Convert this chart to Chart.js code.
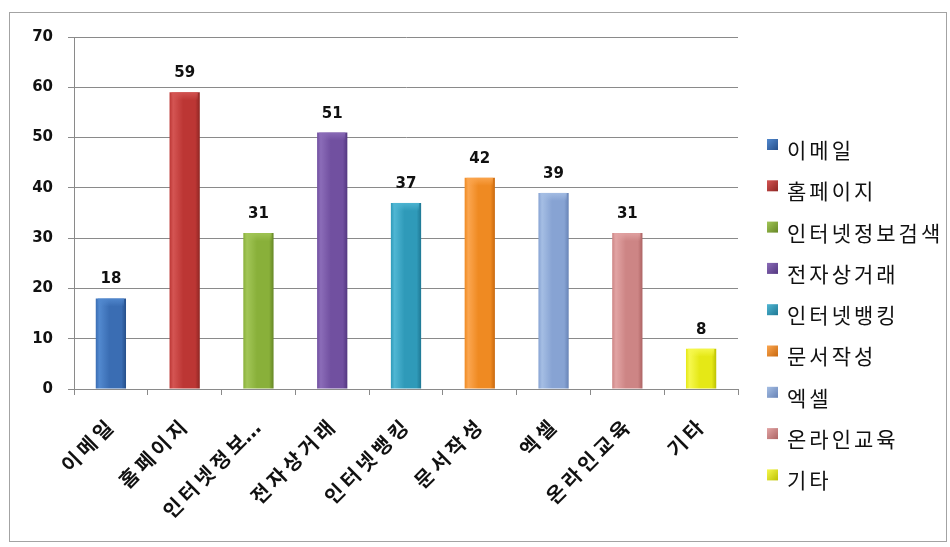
<!DOCTYPE html>
<html>
<head>
<meta charset="utf-8">
<script src="https://cdn.jsdelivr.net/npm/chart.js@4.4.1/dist/chart.umd.min.js"></script>
<style>
  html, body { margin: 0; padding: 0; background: #fff; }
  #frame {
    position: absolute; left: 9px; top: 12px;
    width: 936px; height: 528px;
    border: 1px solid #a3a3a3;
  }
</style>
</head>
<body>
<div id="frame"><canvas id="mycanvas" width="936" height="528"></canvas></div>
<script>
// 인터넷 활용 분야별 응답 수
var categories = ['이메일', '홈페이지', '인터넷정보검색', '전자상거래', '인터넷뱅킹', '문서작성', '엑셀', '온라인교육', '기타'];
var counts = [18, 59, 31, 51, 37, 42, 39, 31, 8];
var yTicks = [0, 10, 20, 30, 40, 50, 60, 70];

// bar shading: dark edge, body, light highlight
var barColors = [
  ['#264f8a', '#3a6db3', '#5289cf'],
  ['#8e2623', '#bc3634', '#d45553'],
  ['#668726', '#89b03a', '#a2c657'],
  ['#533780', '#7150a0', '#8b6cb8'],
  ['#1f7894', '#2f9ab9', '#4fb6d3'],
  ['#c9690f', '#ef8a22', '#fba650'],
  ['#6783b6', '#87a3d3', '#a5bee4'],
  ['#ad6464', '#cd8585', '#e2a4a4'],
  ['#bdc103', '#e5e816', '#f6f84e']
];

var BAR_SHARE = 0.41;
var baseFont = "'DejaVu Sans', 'Noto Sans CJK KR', sans-serif";

function barFill(ctx) {
  var chart = ctx.chart;
  var c = barColors[ctx.dataIndex % barColors.length];
  var area = chart.chartArea;
  var xs = chart.scales.x;
  if (!area || !xs) return c[1];
  var cx = xs.getPixelForValue(ctx.dataIndex);
  var half = (area.right - area.left) / categories.length * BAR_SHARE / 2;
  var g = chart.ctx.createLinearGradient(cx - half, 0, cx + half, 0);
  g.addColorStop(0, c[1]);
  g.addColorStop(0.12, c[2]);
  g.addColorStop(0.45, c[1]);
  g.addColorStop(0.85, c[1]);
  g.addColorStop(1, c[0]);
  return g;
}

function withAlpha(hex, a) {
  var n = parseInt(hex.slice(1), 16);
  return 'rgba(' + (n >> 16) + ',' + ((n >> 8) & 255) + ',' + (n & 255) + ',' + a + ')';
}

// spread Korean tick text a little with thin spaces
function spread(s) {
  return s.split('').join('\u2009');
}

var barCaps = {
  id: 'barCaps',
  afterDatasetsDraw: function(chart) {
    var ctx = chart.ctx;
    var meta = chart.getDatasetMeta(0);
    ctx.save();
    meta.data.forEach(function(bar, i) {
      var c = barColors[i];
      var h = Math.min(8, bar.base - bar.y);
      var g = ctx.createLinearGradient(0, bar.y, 0, bar.y + h);
      g.addColorStop(0, withAlpha(c[2], 0.9));
      g.addColorStop(1, withAlpha(c[2], 0));
      ctx.fillStyle = g;
      ctx.fillRect(bar.x - bar.width / 2 + 2, bar.y, bar.width - 4, h);
    });
    ctx.restore();
  }
};

var valueLabels = {
  id: 'valueLabels',
  afterDatasetsDraw: function(chart) {
    var ctx = chart.ctx;
    var meta = chart.getDatasetMeta(0);
    ctx.save();
    ctx.font = 'bold 15px ' + baseFont;
    ctx.fillStyle = '#111';
    ctx.textAlign = 'center';
    ctx.textBaseline = 'alphabetic';
    meta.data.forEach(function(bar, i) {
      ctx.fillText(counts[i], bar.x, bar.y - 15);
    });
    ctx.restore();
  }
};

var sideLegend = {
  id: 'sideLegend',
  afterDraw: function(chart) {
    var ctx = chart.ctx;
    var x = chart.chartArea.right + 29;
    var y = 136;
    ctx.save();
    ctx.font = "21px 'Noto Sans CJK KR', sans-serif";
    ctx.letterSpacing = '3px';
    ctx.textBaseline = 'middle';
    categories.forEach(function(name, i) {
      var c = barColors[i];
      var g = ctx.createLinearGradient(x, y - 10, x + 11, y + 1);
      g.addColorStop(0, c[2]);
      g.addColorStop(1, c[0]);
      ctx.fillStyle = g;
      ctx.fillRect(x, y - 10, 11, 11);
      ctx.fillStyle = '#111';
      ctx.fillText(name, x + 20, y + 1);
      y += 41.3;
    });
    ctx.restore();
  }
};

new Chart(document.getElementById('mycanvas'), {
  type: 'bar',
  data: {
    labels: categories,
    datasets: [{
      label: '응답 수',
      data: counts,
      backgroundColor: barFill,
      borderWidth: 0,
      barPercentage: BAR_SHARE,
      categoryPercentage: 1
    }]
  },
  options: {
    responsive: false,
    animation: false,
    layout: { padding: { top: 20, right: 208, left: 0, bottom: 0 } },
    plugins: {
      legend: { display: false },
      tooltip: { enabled: false }
    },
    scales: {
      x: {
        grid: { offset: true, drawOnChartArea: false, drawTicks: true, tickLength: 6, color: '#8a8a8a' },
        border: { color: '#8a8a8a' },
        ticks: {
          minRotation: 45, maxRotation: 45, padding: 22,
          color: '#111',
          font: { family: baseFont, size: 20, weight: 'bold' },
          callback: function(v, i) {
            var s = categories[i];
            return s.length > 6 ? spread(s.slice(0, 5)) + '…' : spread(s);
          }
        },
        afterFit: function(scale) { scale.height = 152; }
      },
      y: {
        min: yTicks[0], max: yTicks[yTicks.length - 1],
        afterBuildTicks: function(scale) {
          scale.ticks = yTicks.map(function(v) { return { value: v }; });
        },
        grid: { color: '#8a8a8a', tickLength: 6 },
        border: { color: '#8a8a8a' },
        ticks: {
          padding: 15,
          color: '#111',
          font: { family: baseFont, size: 15, weight: 'bold' }
        },
        afterFit: function(scale) { scale.width = 64; }
      }
    }
  },
  plugins: [barCaps, valueLabels, sideLegend]
});
</script>
</body>
</html>
